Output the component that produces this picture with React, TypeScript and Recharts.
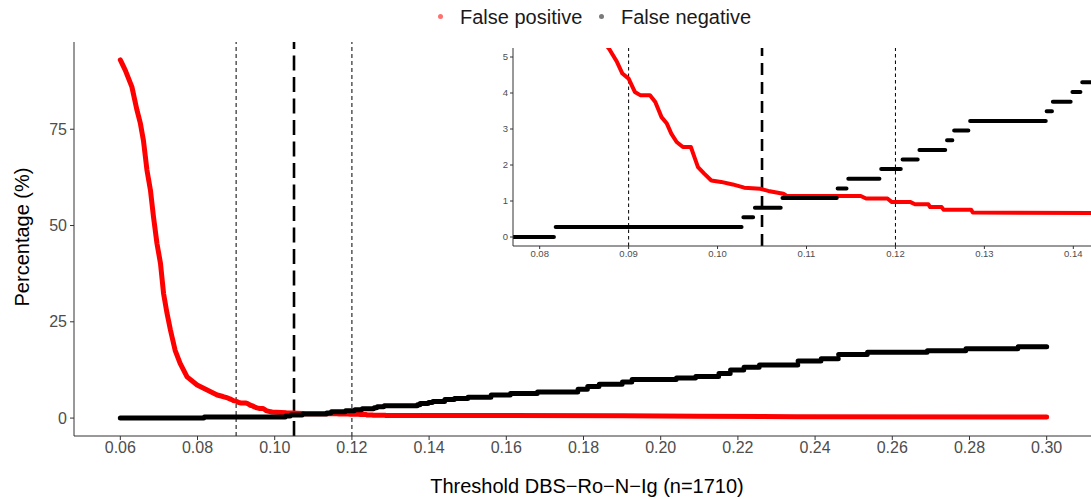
import { ComposedChart, Line, XAxis, YAxis, ReferenceLine } from "recharts";

const FONT = '"Liberation Sans", Arial, Helvetica, sans-serif';

// false positive rate (%) by threshold
const FP_THRESHOLDS = [
  0.06, 0.0613, 0.063, 0.0643, 0.0652, 0.066, 0.0669, 0.0678, 0.0686, 0.0695, 0.0704, 0.0712, 0.0721,
  0.073, 0.0742, 0.0755, 0.0773, 0.0799, 0.0825, 0.0851, 0.0866, 0.0878, 0.0887, 0.0893, 0.09, 0.0907,
  0.0913, 0.0924, 0.093, 0.0937, 0.0943, 0.0948, 0.0954, 0.0961, 0.097, 0.0974, 0.0978, 0.0985, 0.0993,
  0.1004, 0.1017, 0.103, 0.1048, 0.1057, 0.1074, 0.1078, 0.1161, 0.1167, 0.1191, 0.1196, 0.1217, 0.1222,
  0.1237, 0.1239, 0.1252, 0.1254, 0.1285, 0.1287, 0.15, 0.19, 0.21, 0.235, 0.3,
];
const FP_PERCENT = [
  93.0, 90.3, 86.0, 80.0, 76.5, 72.0, 64.4, 59.2, 52.2, 45.3, 40.2, 32.4, 27.2,
  22.8, 17.6, 14.2, 10.7, 8.6, 7.3, 6.0, 5.6, 5.23, 4.86, 4.54, 4.4, 4.03,
  3.94, 3.94, 3.75, 3.33, 3.15, 2.87, 2.64, 2.5, 2.5, 2.22, 1.94, 1.76, 1.57,
  1.53, 1.46, 1.37, 1.34, 1.28, 1.2, 1.14, 1.14, 1.07, 1.07, 0.97, 0.97, 0.91,
  0.91, 0.83, 0.83, 0.76, 0.76, 0.68, 0.66, 0.6, 0.5, 0.35, 0.3,
];

// false negative rate (%) is a step function: one plateau per entry
const FN_STEP_START = [
  0.06, 0.0818, 0.1029, 0.1042, 0.1073, 0.1135, 0.1147, 0.1184, 0.1208, 0.1227, 0.1258, 0.1266, 0.1284,
  0.137, 0.1377, 0.1399, 0.141, 0.1441, 0.1466, 0.1501, 0.1561, 0.1611, 0.1681, 0.1786, 0.1811, 0.1841,
  0.1901, 0.1926, 0.2041, 0.2091, 0.2151, 0.2181, 0.2216, 0.2256, 0.2356, 0.2416, 0.2461, 0.2536, 0.2691,
  0.2791, 0.2926,
];
const FN_STEP_END = [
  0.0816, 0.1027, 0.104, 0.1071, 0.1134, 0.1145, 0.1182, 0.1206, 0.1225, 0.1256, 0.1264, 0.1282, 0.1369,
  0.1376, 0.1397, 0.1408, 0.144, 0.1465, 0.15, 0.156, 0.161, 0.168, 0.1785, 0.181, 0.184, 0.19,
  0.1925, 0.204, 0.209, 0.215, 0.218, 0.2215, 0.2255, 0.2355, 0.2415, 0.246, 0.2535, 0.269, 0.279,
  0.2925, 0.3,
];
const FN_PERCENT = [
  0, 0.28, 0.55, 0.81, 1.08, 1.35, 1.62, 1.89, 2.15, 2.42, 2.69, 2.96, 3.22,
  3.49, 3.76, 4.03, 4.3, 4.8, 5.1, 5.4, 6.0, 6.4, 6.8, 7.5, 8.2, 8.8,
  9.4, 10.0, 10.4, 10.8, 11.6, 12.5, 13.2, 13.8, 14.8, 15.4, 16.5, 17.1, 17.5,
  18.0, 18.5,
];

const MAIN_X_TICKS = [0.06, 0.08, 0.1, 0.12, 0.14, 0.16, 0.18, 0.2, 0.22, 0.24, 0.26, 0.28, 0.3];
const MAIN_Y_TICKS = [0, 25, 50, 75];
const INSET_X_TICKS = [0.08, 0.09, 0.1, 0.11, 0.12, 0.13, 0.14];
const INSET_Y_TICKS = [0, 1, 2, 3, 4, 5];

const CUTOFF_LOW = 0.09;
const CUTOFF_MAIN = 0.105;
const CUTOFF_HIGH = 0.12;

const fpData = FP_THRESHOLDS.map((x, i) => ({ x, fp: FP_PERCENT[i] }));
const fnData = FN_STEP_START.flatMap((start, i) => [
  { x: start, fn: FN_PERCENT[i] },
  { x: FN_STEP_END[i], fn: FN_PERCENT[i] },
  { x: FN_STEP_END[i], fn: null },
]);

const fmt2 = (v: number) => v.toFixed(2);
const AXIS = "#333333";
const TICK_TEXT = "#4D4D4D";

function MainChart() {
  return (
    <ComposedChart width={1100} height={499} margin={{ top: 42, right: 7, bottom: 33, left: 0 }}>
      <XAxis
        dataKey="x"
        type="number"
        domain={[0.048, 0.312]}
        ticks={MAIN_X_TICKS}
        tickFormatter={fmt2}
        interval={0}
        allowDataOverflow
        height={30}
        tickSize={4}
        tickMargin={2}
        stroke={AXIS}
        tick={{ fill: TICK_TEXT, fontSize: 16, fontFamily: FONT }}
      />
      <YAxis
        type="number"
        domain={[-4.65, 97.65]}
        ticks={MAIN_Y_TICKS}
        interval={0}
        allowDataOverflow
        width={74}
        tickSize={4}
        tickMargin={3}
        stroke={AXIS}
        tick={{ fill: TICK_TEXT, fontSize: 16, fontFamily: FONT }}
      />
      <ReferenceLine x={CUTOFF_LOW} stroke="#000" strokeWidth={1} strokeDasharray="4 3" />
      <ReferenceLine x={CUTOFF_HIGH} stroke="#000" strokeWidth={1} strokeDasharray="4 3" />
      <ReferenceLine x={CUTOFF_MAIN} stroke="#000" strokeWidth={2.6} strokeDasharray="15 6.5" />
      <Line
        data={fpData}
        dataKey="fp"
        stroke="#FF0000"
        strokeWidth={5}
        strokeLinecap="round"
        strokeLinejoin="round"
        dot={false}
        isAnimationActive={false}
      />
      <Line
        data={fnData}
        dataKey="fn"
        stroke="#000000"
        strokeWidth={5}
        strokeLinecap="round"
        strokeLinejoin="round"
        dot={false}
        isAnimationActive={false}
      />
    </ComposedChart>
  );
}

function InsetChart() {
  return (
    <ComposedChart width={620} height={230} margin={{ top: 8, right: 0, bottom: 4, left: 0 }}>
      <XAxis
        dataKey="x"
        type="number"
        domain={[0.077, 0.143]}
        ticks={INSET_X_TICKS}
        tickFormatter={fmt2}
        interval={0}
        allowDataOverflow
        height={20}
        tickSize={3}
        tickMargin={1}
        stroke={AXIS}
        tick={{ fill: TICK_TEXT, fontSize: 9.5, fontFamily: FONT }}
      />
      <YAxis
        type="number"
        domain={[-0.25, 5.25]}
        ticks={INSET_Y_TICKS}
        interval={0}
        allowDataOverflow
        width={33}
        tickSize={3}
        tickMargin={2}
        stroke={AXIS}
        tick={{ fill: TICK_TEXT, fontSize: 9.5, fontFamily: FONT }}
      />
      <ReferenceLine x={CUTOFF_LOW} stroke="#000" strokeWidth={1} strokeDasharray="3.5 3" />
      <ReferenceLine x={CUTOFF_HIGH} stroke="#000" strokeWidth={1} strokeDasharray="3.5 3" />
      <ReferenceLine x={CUTOFF_MAIN} stroke="#000" strokeWidth={2.6} strokeDasharray="12 7" />
      <Line
        data={fpData}
        dataKey="fp"
        stroke="#FF0000"
        strokeWidth={4}
        strokeLinecap="round"
        strokeLinejoin="round"
        dot={false}
        isAnimationActive={false}
      />
      <Line
        data={fnData}
        dataKey="fn"
        stroke="#000000"
        strokeWidth={4}
        strokeLinecap="round"
        strokeLinejoin="round"
        dot={false}
        isAnimationActive={false}
      />
    </ComposedChart>
  );
}

const legendText: React.CSSProperties = {
  position: "absolute",
  top: 7,
  fontSize: 20,
  lineHeight: "20px",
  color: "#1A1A1A",
  whiteSpace: "nowrap",
};
const legendDot: React.CSSProperties = {
  position: "absolute",
  top: 14,
  width: 5,
  height: 5,
  borderRadius: 3,
};

export default function App() {
  return (
    <div
      style={{
        position: "absolute",
        left: 0,
        top: 0,
        width: 1091,
        height: 499,
        overflow: "hidden",
        background: "#fff",
        fontFamily: FONT,
      }}
    >
      <div style={{ position: "absolute", left: 0, top: 0 }}>
        <MainChart />
      </div>
      <div style={{ position: "absolute", left: 480, top: 40, background: "#fff" }}>
        <InsetChart />
      </div>

      <div style={{ ...legendDot, left: 438, background: "#FF7070" }} />
      <div style={{ ...legendText, left: 460 }}>False positive</div>
      <div style={{ ...legendDot, left: 599, background: "#7A7A7A" }} />
      <div style={{ ...legendText, left: 621 }}>False negative</div>

      <div
        style={{
          position: "absolute",
          left: 287,
          top: 476,
          width: 600,
          textAlign: "center",
          fontSize: 20,
          lineHeight: "20px",
          color: "#000",
          whiteSpace: "nowrap",
        }}
      >
        Threshold DBS−Ro−N−Ig (n=1710)
      </div>
      <div
        style={{
          position: "absolute",
          left: 22,
          top: 237,
          transform: "translate(-50%, -50%) rotate(-90deg)",
          fontSize: 20,
          lineHeight: "20px",
          color: "#000",
          whiteSpace: "nowrap",
        }}
      >
        Percentage (%)
      </div>
    </div>
  );
}
